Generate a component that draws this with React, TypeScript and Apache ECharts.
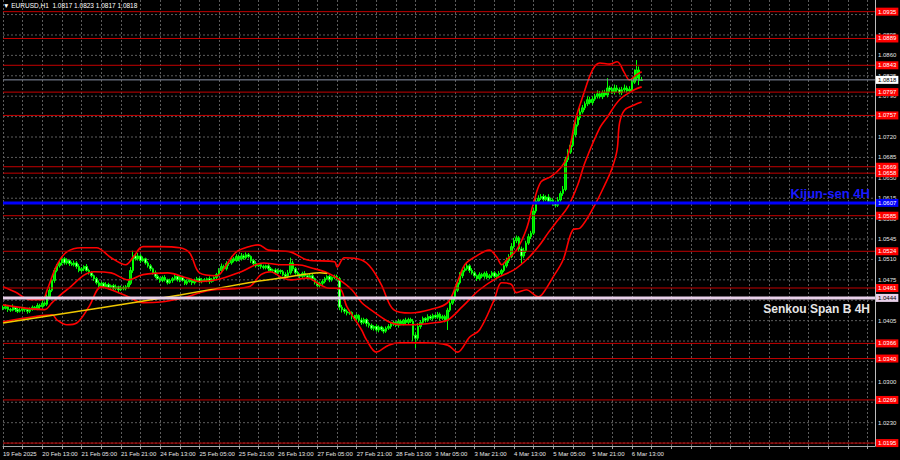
import React, { useEffect, useRef } from "react";
import * as echarts from "echarts";

// ---- Data ----
const firstOpen = 1.0428;
const closes = [
  1.0426,1.0429,1.0424,1.0423,1.0428,1.0424,1.0421,1.0423,1.0426,1.0424,
  1.0421,1.0424,1.0428,1.0426,1.0431,1.0429,1.0435,1.0433,1.0446,1.0457,
  1.0474,1.0491,1.0499,1.0504,1.0511,1.0504,1.0508,1.0503,1.0501,1.0504,
  1.0498,1.0491,1.0494,1.0498,1.0491,1.0487,1.0482,1.0477,1.0470,1.0465,
  1.0469,1.0463,1.0467,1.0462,1.0465,1.0460,1.0463,1.0458,1.0462,1.0460,
  1.0463,1.0469,1.0491,1.0516,1.0511,1.0516,1.0508,1.0511,1.0504,1.0499,
  1.0494,1.0487,1.0481,1.0477,1.0474,1.0479,1.0475,1.0470,1.0474,1.0477,
  1.0481,1.0475,1.0479,1.0474,1.0469,1.0472,1.0475,1.0470,1.0474,1.0477,
  1.0472,1.0475,1.0474,1.0477,1.0472,1.0475,1.0479,1.0484,1.0491,1.0498,
  1.0494,1.0503,1.0504,1.0511,1.0508,1.0515,1.0511,1.0516,1.0513,1.0518,
  1.0515,1.0508,1.0503,1.0499,1.0501,1.0498,1.0496,1.0499,1.0494,1.0491,
  1.0492,1.0487,1.0491,1.0489,1.0484,1.0481,1.0487,1.0504,1.0494,1.0487,
  1.0484,1.0481,1.0486,1.0482,1.0479,1.0482,1.0477,1.0470,1.0465,1.0469,
  1.0472,1.0477,1.0481,1.0475,1.0479,1.0481,1.0477,1.0428,1.0424,1.0421,
  1.0418,1.0419,1.0412,1.0409,1.0414,1.0406,1.0402,1.0407,1.0400,1.0397,
  1.0392,1.0395,1.0389,1.0394,1.0390,1.0387,1.0392,1.0395,1.0399,1.0402,
  1.0397,1.0404,1.0400,1.0406,1.0402,1.0407,1.0404,1.0380,1.0375,1.0395,
  1.0402,1.0409,1.0406,1.0412,1.0409,1.0414,1.0411,1.0416,1.0409,1.0412,
  1.0406,1.0423,1.0435,1.0443,1.0457,1.0470,1.0482,1.0491,1.0494,1.0499,
  1.0491,1.0487,1.0482,1.0477,1.0484,1.0481,1.0486,1.0479,1.0482,1.0487,
  1.0481,1.0484,1.0486,1.0491,1.0499,1.0508,1.0515,1.0532,1.0542,1.0547,
  1.0528,1.0516,1.0525,1.0538,1.0549,1.0555,1.0593,1.0610,1.0615,1.0618,
  1.0613,1.0617,1.0610,1.0612,1.0607,1.0603,1.0612,1.0623,1.0630,1.0681,
  1.0694,1.0706,1.0724,1.0741,1.0753,1.0763,1.0770,1.0777,1.0784,1.0779,
  1.0785,1.0790,1.0794,1.0789,1.0796,1.0792,1.0804,1.0801,1.0797,1.0804,
  1.0801,1.0796,1.0801,1.0804,1.0799,1.0802,1.0814,1.0821,1.0835,1.0817,
  1.0818,
];
// wick lengths beyond the body, in pips
const highWickPips = [
  3,4,2,3,5,2,3,4,3,2, 3,4,3,2,4,3,5,3,4,6, 5,4,3,5,4,3,4,2,3,4, 3,4,3,2,4,3,3,2,3,4,
  3,2,4,3,2,3,4,2,3,3, 3,5,6,9,4,5,3,4,2,3, 3,2,4,3,2,3,4,2,3,3, 4,2,3,3,2,4,3,2,3,3,
  2,3,3,2,4,3,2,3,4,5, 3,4,3,5,3,4,3,5,3,4, 3,2,3,4,2,3,3,2,3,3, 2,3,3,2,3,4,5,9,4,3,
  3,2,3,4,2,3,3,2,3,3, 4,3,2,3,2,3,3,3,4,3, 3,4,2,3,3,2,4,3,2,3, 3,2,4,3,2,3,3,4,3,3,
  2,4,3,2,4,3,3,4,5,6, 4,3,2,4,3,3,2,4,3,3, 3,4,5,4,5,4,6,5,4,6, 3,4,3,2,4,3,3,4,3,3,
  3,2,4,3,4,5,4,6,5,4, 3,4,5,4,5,4,6,5,5,4, 4,3,5,4,3,4,5,4,6,5, 5,6,5,6,5,7,5,4,6,5,
  5,4,6,5,4,5,17,4,5,6, 5,4,5,6,4,5,6,15,17,6, 5,
];
const lowWickPips = [
  3,2,4,3,2,4,3,2,3,4, 4,3,2,3,3,4,2,3,3,3, 3,4,3,3,4,3,3,4,2,3, 4,3,3,4,2,3,3,4,3,3,
  4,3,3,2,4,3,3,4,2,3, 3,3,3,4,3,3,4,2,3,3, 4,3,3,2,4,3,3,3,2,4, 3,3,4,2,3,3,2,4,3,3,
  3,3,2,3,4,2,3,3,3,4, 3,3,4,3,3,2,4,3,3,3, 3,4,3,3,2,4,3,3,4,3, 3,3,2,4,3,3,3,3,4,3,
  3,3,4,2,3,3,4,3,3,3, 3,3,2,4,3,3,3,5,5,4, 4,3,5,4,3,4,4,3,5,4, 3,4,3,4,3,4,3,3,4,3,
  3,4,3,3,4,3,3,10,17,4, 4,3,4,3,3,4,3,3,4,3, 4,17,3,3,4,3,3,4,3,3, 4,3,3,4,3,3,4,3,3,4,
  3,3,4,3,3,3,4,3,3,4, 5,13,4,4,3,4,3,4,4,3, 4,3,4,3,5,4,3,3,4,3, 4,3,3,4,3,4,3,4,4,3,
  4,3,4,3,4,3,4,4,3,4, 4,3,4,4,3,4,3,3,4,8, 0,
];

// Bollinger bands sampled at bar indices: [barIndex, price]
const upperBand: [number, number][] = [
  [0,1.0463],[5,1.0454],[11,1.0441],[16,1.0441],[18,1.0458],[22,1.0501],[26,1.0523],[32,1.0530],
  [38,1.0530],[44,1.0513],[50,1.0501],[53,1.0514],[57,1.0532],[64,1.0532],[72,1.0530],[76,1.0521],
  [80,1.0487],[87,1.0482],[91,1.0501],[95,1.0523],[101,1.0533],[104,1.0535],[108,1.0526],[117,1.0523],
  [124,1.0509],[135,1.0506],[136,1.0497],[139,1.0513],[146,1.0509],[150,1.0495],[154,1.0467],[159,1.0424],
  [166,1.0418],[174,1.0424],[181,1.0436],[185,1.0472],[188,1.0501],[192,1.0514],[198,1.0526],[201,1.0514],
  [203,1.0501],[205,1.0509],[209,1.0526],[213,1.0561],[216,1.0607],[219,1.0643],[223,1.0652],[227,1.0667],
  [230,1.0689],[233,1.0749],[236,1.0789],[240,1.0835],[243,1.0847],[247,1.0845],[250,1.0849],[253,1.0830],
  [255,1.0818],[258,1.0827],[260,1.0832],
];
const middleBand: [number, number][] = [
  [0,1.0432],[17,1.0424],[20,1.0436],[26,1.0458],[37,1.0489],[44,1.0487],[51,1.0475],[57,1.0484],
  [67,1.0487],[75,1.0478],[80,1.0472],[87,1.0475],[97,1.0489],[106,1.0504],[113,1.0501],[120,1.0501],
  [126,1.0495],[132,1.0487],[137,1.0475],[142,1.0458],[146,1.0436],[148,1.0429],[157,1.0403],[162,1.0398],
  [167,1.0398],[175,1.0401],[181,1.0406],[187,1.0429],[194,1.0458],[201,1.0478],[208,1.0492],[213,1.0509],
  [218,1.0532],[222,1.0556],[226,1.0578],[230,1.0600],[234,1.0638],[237,1.0677],[243,1.0736],[246,1.0754],
  [251,1.0784],[257,1.0801],[260,1.0806],
];
const lowerBand: [number, number][] = [
  [0,1.0403],[13,1.0412],[20,1.0415],[22,1.0406],[26,1.0398],[30,1.0401],[35,1.0429],[40,1.0463],
  [44,1.0458],[51,1.0446],[57,1.0436],[64,1.0437],[75,1.0446],[80,1.0453],[86,1.0458],[100,1.0463],
  [105,1.0484],[109,1.0489],[113,1.0480],[117,1.0475],[124,1.0478],[129,1.0467],[132,1.0461],[137,1.0460],
  [140,1.0429],[146,1.0389],[148,1.0372],[152,1.0351],[157,1.0363],[162,1.0367],[171,1.0367],[181,1.0363],
  [185,1.0351],[190,1.0377],[194,1.0389],[200,1.0441],[203,1.0470],[207,1.0467],[209,1.0453],[213,1.0458],
  [218,1.0446],[220,1.0453],[224,1.0480],[228,1.0509],[232,1.0561],[235,1.0564],[241,1.0604],[245,1.0638],
  [248,1.0667],[250,1.0698],[251,1.0744],[253,1.0766],[257,1.0775],[260,1.0780],
];
const yellowLine: [number, number][] = [
  [0,1.0401],[40,1.0427],[72,1.0449],[100,1.0470],[113,1.0478],[129,1.0487],[132,1.0486],
];

const xTickLabels = [
  "19 Feb 2025","20 Feb 13:00","21 Feb 05:00","21 Feb 21:00","24 Feb 13:00","25 Feb 05:00",
  "25 Feb 21:00","26 Feb 13:00","27 Feb 05:00","27 Feb 21:00","28 Feb 13:00","3 Mar 05:00",
  "3 Mar 21:00","4 Mar 13:00","5 Mar 05:00","5 Mar 21:00","6 Mar 13:00",
];
// price grid (every 35 pips) and the tick labels that stay visible on the right
const priceTicks = [
  1.0195,1.0230,1.0265,1.0300,1.0335,1.0370,1.0405,1.0440,1.0475,1.0510,1.0545,
  1.0580,1.0615,1.0650,1.0685,1.0720,1.0755,1.0790,1.0825,1.0860,1.0895,1.0930,
];
const priceTickLabels = [
  "1.0230","1.0300","1.0405","1.0475","1.0510","1.0545","1.0580","1.0615","1.0650",
  "1.0685","1.0720","1.0790","1.0825","1.0860","1.0895",
];
const redLevels = [
  1.0935,1.0889,1.0843,1.0797,1.0757,1.0669,1.0658,1.0585,1.0524,1.0461,1.0366,1.0340,1.0269,1.0195,
];
const currentPrice = 1.0818;
const kijunSen = 1.0607;
const senkouSpanB = 1.0444;
const titleText = "\u25BC EURUSD,H1  1.0817 1.0823 1.0817 1.0818";
const slotCount = 356;
const yMin = 1.0190;
const yMax = 1.0955;

const FONT = "Liberation Sans, Arial, sans-serif";

export default function App() {
  const ref = useRef<HTMLDivElement>(null);
  useEffect(() => {
    document.body.style.margin = "0";
    document.body.style.background = "#000";
    const chart = echarts.init(ref.current as HTMLDivElement, null, { renderer: "svg" });

    const slots = Array.from({ length: slotCount }, (_, i) => String(i));
    const candles = closes.map((c, i) => {
      const o = i === 0 ? firstOpen : closes[i - 1];
      const hi = Math.max(o, c) + highWickPips[i] / 10000;
      const lo = Math.min(o, c) - lowWickPips[i] / 10000;
      return [o, c, +lo.toFixed(5), +hi.toFixed(5)];
    });

    const smallLabel = { fontSize: 6, fontFamily: FONT, lineHeight: 7 };

    // one flat line series per horizontal level, spanning all slots
    const hLine = (
      name: string,
      v: number,
      color: string,
      width: number,
      z: number,
      label: any,
      dashed = false
    ) => ({
      name,
      type: "line",
      data: [
        [0, v],
        [slotCount - 1, v],
      ],
      symbol: "none",
      silent: true,
      z,
      clip: false,
      lineStyle: { color, width, type: dashed ? [2, 2] : "solid" },
      endLabel: { distance: 1, ...smallLabel, ...label },
    });

    const bandSeries = (name: string, d: [number, number][]) => ({
      name,
      type: "line",
      data: d,
      symbol: "none",
      smooth: 0.35,
      z: 4,
      lineStyle: { color: "#ff0000", width: 1.6 },
    });

    const gridSeries = priceTicks.map((v, i) => {
      const txt = v.toFixed(4);
      const shown = priceTickLabels.indexOf(txt) >= 0;
      return hLine("g" + i, v, "#5c5c5c", 1, 1, {
        show: shown,
        formatter: txt,
        color: "#e6e6e6",
        distance: 3,
        padding: 0,
      }, true);
    });
    const levelSeries = redLevels.map((v, i) =>
      hLine("r" + i, v, "#c40000", 1, 6, {
        show: true,
        formatter: v.toFixed(4),
        color: "#ffffff",
        backgroundColor: "#ff0000",
        padding: [1, 2, 0, 2],
      })
    );

    const option: any = {
      animation: false,
      backgroundColor: "#000000",
      title: {
        text: titleText,
        left: 3,
        top: 2,
        padding: 0,
        textStyle: { color: "#ffffff", fontSize: 6.5, fontWeight: "normal", fontFamily: FONT },
      },
      grid: { left: 2, right: 25, top: 0, bottom: 14, containLabel: false },
      xAxis: {
        type: "category",
        data: slots,
        boundaryGap: false,
        axisLine: { show: true, lineStyle: { color: "#a8a8a8", width: 1 } },
        axisTick: { show: true, interval: 7, length: 3, lineStyle: { color: "#a8a8a8" } },
        axisLabel: {
          interval: 15,
          align: "left",
          margin: 4,
          color: "#e6e6e6",
          ...smallLabel,
          formatter: (_v: string, idx: number) => {
            const k = idx / 16;
            return Number.isInteger(k) && xTickLabels[k] ? xTickLabels[k] : "";
          },
        },
        splitLine: { show: true, interval: 7, lineStyle: { color: "#5c5c5c", type: [2, 2], width: 1 } },
      },
      yAxis: {
        type: "value",
        position: "right",
        min: yMin,
        max: yMax,
        axisLine: { show: true, lineStyle: { color: "#bdbdbd", width: 1 } },
        axisTick: { show: false },
        axisLabel: { show: false },
        splitLine: { show: false },
      },
      series: [
        ...gridSeries,
        {
          name: "EURUSD",
          type: "candlestick",
          data: candles,
          z: 3,
          barWidth: 2,
          itemStyle: {
            color: "#00d000",
            color0: "#b8ffb8",
            borderColor: "#00ff00",
            borderColor0: "#00ff00",
            borderWidth: 1,
          },
        },
        bandSeries("upper", upperBand),
        bandSeries("middle", middleBand),
        bandSeries("lower", lowerBand),
        {
          name: "yellow",
          type: "line",
          data: yellowLine,
          symbol: "none",
          smooth: 0.2,
          z: 4,
          lineStyle: { color: "#f0c800", width: 1.5 },
        },
        ...levelSeries,
        hLine("current", currentPrice, "#8a92a6", 1, 6, {
          show: true,
          formatter: currentPrice.toFixed(4),
          color: "#000000",
          backgroundColor: "#ffffff",
          padding: [1, 2, 0, 2],
        }),
        hLine("kijun", kijunSen, "#0000ff", 3, 7, {
          show: true,
          formatter: kijunSen.toFixed(4),
          color: "#ffffff",
          backgroundColor: "#0000ff",
          padding: [1, 2, 0, 2],
        }),
        hLine("senkouB", senkouSpanB, "#e8d0ea", 3, 7, {
          show: true,
          formatter: senkouSpanB.toFixed(4),
          color: "#000000",
          backgroundColor: "#e8d0ea",
          padding: [1, 2, 0, 2],
        }),
      ],
      graphic: [],
    };
    chart.setOption(option);

    // indicator names, anchored to their lines through the y scale
    const kY = chart.convertToPixel({ yAxisIndex: 0 }, kijunSen) as number;
    const sY = chart.convertToPixel({ yAxisIndex: 0 }, senkouSpanB) as number;
    const rightX = chart.convertToPixel({ xAxisIndex: 0 }, slotCount - 1) as number;
    chart.setOption({
      graphic: [
        {
          type: "text",
          x: rightX - 5,
          y: kY - 3,
          z: 100,
          style: {
            text: "Kijun-sen 4H",
            fill: "#1a1aff",
            font: "bold 13px " + FONT,
            align: "right",
            verticalAlign: "bottom",
          },
        },
        {
          type: "text",
          x: rightX - 5,
          y: sY + 5,
          z: 100,
          style: {
            text: "Senkou Span B 4H",
            fill: "#e6e6e6",
            font: "bold 12px " + FONT,
            align: "right",
            verticalAlign: "top",
          },
        },
      ],
    });
    return () => chart.dispose();
  }, []);
  return <div ref={ref} style={{ width: 900, height: 460 }} />;
}
